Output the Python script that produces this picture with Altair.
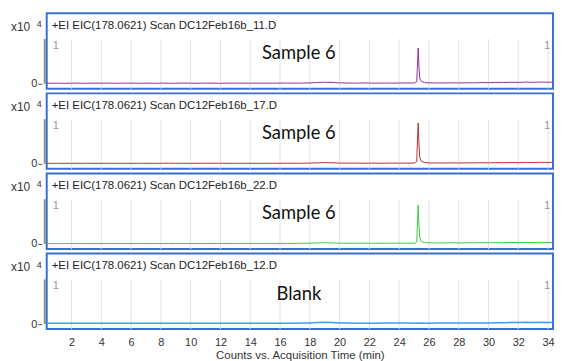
import altair as alt
import pandas as pd

# retention times (min) of the baseline samples
T_BASE = [0.3, 0.5, 1.0, 1.5, 2.0, 2.5, 3.0, 3.5, 4.0, 4.5, 5.0,
          5.5, 6.0, 6.5, 7.0, 7.5, 8.0, 8.5, 9.0, 9.5, 10.0,
          10.5, 11.0, 11.5, 12.0, 12.5, 13.0, 13.5, 14.0, 14.5, 15.0,
          15.5, 16.0, 16.5, 17.0, 17.5, 18.0, 18.5, 19.0, 19.5, 20.0,
          20.5, 21.0, 21.5, 22.0, 22.5, 23.0, 23.5, 24.0, 24.5, 25.0,
          26.0, 26.5, 27.0, 27.5, 28.0, 28.5, 29.0, 29.5, 30.0,
          30.5, 31.0, 31.5, 32.0, 32.5, 33.0, 33.5, 34.0, 34.5, 34.75]
# retention times around the peak
T_PEAK = [25.05, 25.18, 25.24, 25.28, 25.32, 25.38, 25.48, 25.7]

# intensities in units of 1e4 counts
S1_BASE = [0.013, 0.012, 0.015, 0.011, 0.014, 0.016, 0.012, 0.015, 0.013, 0.017, 0.012,
           0.014, 0.016, 0.013, 0.015, 0.012, 0.016, 0.014, 0.013, 0.017, 0.015,
           0.013, 0.016, 0.014, 0.012, 0.015, 0.017, 0.013, 0.016, 0.014, 0.015,
           0.013, 0.016, 0.018, 0.015, 0.017, 0.020, 0.030, 0.038, 0.032, 0.022,
           0.018, 0.016, 0.019, 0.017, 0.015, 0.018, 0.016, 0.017, 0.019, 0.018,
           0.022, 0.020, 0.021, 0.023, 0.020, 0.024, 0.022, 0.030, 0.026,
           0.034, 0.030, 0.038, 0.033, 0.042, 0.036, 0.044, 0.038, 0.046, 0.040]
S1_PEAK = [0.025, 0.05, 0.55, 0.90, 0.50, 0.15, 0.06, 0.03]

S2_BASE = [0.013, 0.012, 0.014, 0.012, 0.015, 0.013, 0.016, 0.012, 0.014, 0.016, 0.013,
           0.015, 0.013, 0.016, 0.014, 0.012, 0.015, 0.017, 0.014, 0.016, 0.013,
           0.015, 0.017, 0.014, 0.016, 0.013, 0.015, 0.016, 0.014, 0.013, 0.016,
           0.014, 0.015, 0.017, 0.016, 0.015, 0.019, 0.026, 0.032, 0.027, 0.020,
           0.017, 0.018, 0.016, 0.018, 0.017, 0.016, 0.019, 0.017, 0.018, 0.020,
           0.024, 0.021, 0.022, 0.025, 0.022, 0.026, 0.024, 0.028, 0.025,
           0.032, 0.028, 0.035, 0.031, 0.038, 0.033, 0.040, 0.036, 0.042, 0.038]
S2_PEAK = [0.025, 0.06, 0.70, 1.03, 0.60, 0.17, 0.07, 0.035]

S3_BASE = [0.009, 0.008, 0.010, 0.009, 0.011, 0.010, 0.012, 0.009, 0.011, 0.010, 0.012,
           0.011, 0.010, 0.013, 0.011, 0.012, 0.010, 0.012, 0.011, 0.013, 0.012,
           0.011, 0.013, 0.012, 0.014, 0.012, 0.013, 0.015, 0.013, 0.014, 0.013,
           0.015, 0.014, 0.016, 0.015, 0.017, 0.020, 0.027, 0.032, 0.026, 0.020,
           0.018, 0.017, 0.019, 0.018, 0.017, 0.019, 0.018, 0.020, 0.019, 0.021,
           0.028, 0.025, 0.027, 0.030, 0.027, 0.031, 0.028, 0.033, 0.030,
           0.036, 0.032, 0.038, 0.034, 0.040, 0.036, 0.041, 0.037, 0.043, 0.039]
S3_PEAK = [0.022, 0.05, 0.65, 0.98, 0.55, 0.16, 0.06, 0.035]

S4_BASE = [0.021, 0.020, 0.022, 0.019, 0.023, 0.021, 0.020, 0.023, 0.021, 0.022, 0.020,
           0.023, 0.021, 0.022, 0.020, 0.023, 0.022, 0.021, 0.023, 0.020, 0.022,
           0.021, 0.023, 0.022, 0.020, 0.022, 0.023, 0.021, 0.022, 0.020, 0.023,
           0.022, 0.021, 0.023, 0.024, 0.026, 0.030, 0.040, 0.048, 0.040, 0.030,
           0.025, 0.023, 0.024, 0.022, 0.023, 0.025, 0.027, 0.030, 0.026, 0.024,
           0.024, 0.026, 0.025, 0.027, 0.025, 0.028, 0.027, 0.030, 0.029,
           0.033, 0.036, 0.040, 0.038, 0.045, 0.041, 0.046, 0.042, 0.047, 0.043]
S4_PEAK = [0.024, 0.022, 0.025, 0.023, 0.024, 0.022, 0.025, 0.024]

HEADERS = ["+EI EIC(178.0621) Scan DC12Feb16b_11.D",
           "+EI EIC(178.0621) Scan DC12Feb16b_17.D",
           "+EI EIC(178.0621) Scan DC12Feb16b_22.D",
           "+EI EIC(178.0621) Scan DC12Feb16b_12.D"]
LABELS = ["Sample 6", "Sample 6", "Sample 6", "Blank"]
COLORS = ["#9b2d9b", "#b83232", "#3ccc3c", "#3d9cf5"]
SERIES = [(S1_BASE, S1_PEAK), (S2_BASE, S2_PEAK), (S3_BASE, S3_PEAK), (S4_BASE, S4_PEAK)]
X_TICKS = [2, 4, 6, 8, 10, 12, 14, 16, 18, 20, 22, 24, 26, 28, 30, 32, 34]

X_DOMAIN = [0.333, 34.333]
Y_DOMAIN = [-0.125, 1.775]
GRID_TOP = 1.125
W, H = 510, 76
BLUE = "#3b6fcf"
FONT = "Liberation Sans"


def panel(i, bottom):
    base, peak = SERIES[i]
    df = pd.DataFrame({"t": T_BASE + T_PEAK, "v": base + peak}).sort_values("t")
    xscale = alt.Scale(domain=X_DOMAIN, nice=False, zero=False)
    yscale = alt.Scale(domain=Y_DOMAIN, nice=False, zero=False)
    if bottom:
        xaxis = alt.Axis(values=X_TICKS, grid=False, domain=False, ticks=False,
                         labelPadding=8, labelFontSize=11, labelColor="#333",
                         labelFont=FONT, title="Counts vs. Acquisition Time (min)",
                         titleFont=FONT, titleFontSize=11.5, titleFontWeight="normal",
                         titleColor="#333", titlePadding=2)
    else:
        xaxis = None
    yaxis = alt.Axis(values=[0], grid=False, domain=False, ticks=True, tickSize=4,
                     tickColor="#555", labelColor="#333", labelFontSize=11,
                     labelFont=FONT, labelPadding=1, offset=5, title=None)

    grid = alt.Chart(pd.DataFrame({"g": X_TICKS})).mark_rule(
        color="#e2e2e2", strokeWidth=1).encode(
        x=alt.X("g:Q", scale=xscale, axis=xaxis),
        y=alt.Y(datum=GRID_TOP, scale=yscale, axis=yaxis),
        y2=alt.datum(Y_DOMAIN[0]))

    line = alt.Chart(df).mark_line(
        color=COLORS[i], strokeWidth=1.5 if i == 3 else 1, clip=True).encode(
        x=alt.X("t:Q", scale=xscale, axis=xaxis),
        y=alt.Y("v:Q", scale=yscale, axis=yaxis))

    one = pd.DataFrame({"a": [0]})
    bar = alt.Chart(one).mark_rule(color="#8c8c8c", strokeWidth=2).encode(
        x=alt.value(-2), y=alt.Y(datum=0, scale=yscale, axis=yaxis),
        y2=alt.datum(GRID_TOP))

    header = alt.Chart(one).mark_text(
        text=HEADERS[i], align="left", baseline="middle", font=FONT,
        fontSize=11.5, color="#222").encode(x=alt.value(5), y=alt.value(13))
    x10 = alt.Chart(one).mark_text(
        text="x10", align="left", baseline="middle", font=FONT,
        fontSize=12, color="#333").encode(x=alt.value(-36), y=alt.value(14))
    exp = alt.Chart(one).mark_text(
        text="4", align="left", baseline="middle", font=FONT,
        fontSize=9, color="#333").encode(x=alt.value(-10), y=alt.value(11))
    one_l = alt.Chart(one).mark_text(
        text="1", align="left", baseline="middle", font=FONT,
        fontSize=11, color="#999").encode(x=alt.value(6), y=alt.value(33))
    one_r = alt.Chart(one).mark_text(
        text="1", align="left", baseline="middle", font=FONT,
        fontSize=11, color="#999").encode(x=alt.value(501), y=alt.value(33))
    lab = alt.Chart(one).mark_text(
        text=LABELS[i], align="center", baseline="middle", font="Lato",
        fontSize=18.5, color="#111").encode(
        x=alt.value(254), y=alt.value(41 if i == 3 else 40))

    return alt.layer(grid, line, bar, header, x10, exp, one_l, one_r, lab).properties(
        width=W, height=H)


chart = alt.vconcat(*[panel(i, i == 3) for i in range(4)], spacing=1.7).properties(
    padding={"left": 2, "top": 3, "right": 0, "bottom": 0}
).configure_view(stroke=BLUE, strokeWidth=2)

chart.save("out.html", embed_options={"renderer": "svg", "actions": False})
